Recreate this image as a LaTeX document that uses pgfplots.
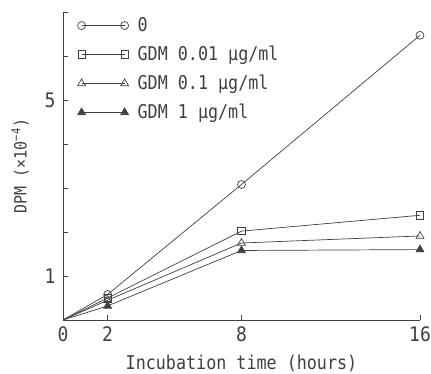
\documentclass[border=0pt]{standalone}
\usepackage{pgfplots}
\pgfplotsset{compat=1.18}
\usepackage{fontspec}
\setmainfont[FakeStretch=0.88]{DejaVu Sans Mono}
\newfontfamily\tickfont[FakeStretch=0.9]{DejaVu Sans Mono}
\definecolor{ink}{gray}{0.25}
\begin{document}
\begin{tikzpicture}
\begin{axis}[
  scale only axis, width=357pt, height=308pt,
  xmin=0, xmax=16, ymin=0, ymax=7,
  axis lines*=left,
  axis line style={ink, line width=0.7pt},
  xtick={0,2,8,16}, xticklabels={0,2,8,16},
  ytick={0,1,2,3,4,5,6,7}, yticklabels={,1,,,,5,,},
  tick align=inside, major tick length=5pt,
  tick style={ink, line width=0.7pt},
  /pgf/number format/assume math mode=true,
  ticklabel style={font=\tickfont\fontsize{20}{22}\selectfont, text=ink},
  xticklabel style={yshift=-3pt},
  yticklabel style={xshift=-4pt},
  xlabel={Incubation time (hours)},
  ylabel={DPM (×10\textsuperscript{−4})},
  every axis x label/.style={at={(axis description cs:0.5,-0.142)}, anchor=center,
    font=\fontsize{19}{22}\selectfont, text=ink},
  every axis y label/.style={at={(axis description cs:-0.12,0.5)}, anchor=center, rotate=90,
    font=\fontsize{17}{20}\selectfont, text=ink},
  every axis plot/.append style={ink, line width=0.7pt},
  mark indices={2,3,4},
  legend cell align=left,
  legend style={draw=none, fill=none, at={(axis description cs:0.032,0.995)}, anchor=north west,
    font=\fontsize{19}{22}\selectfont, text=ink, row sep=9pt,
    nodes={inner sep=2pt},
    /tikz/every odd column/.append style={column sep=7pt}},
  legend image code/.code={\draw[#1, mark indices={1,2}] plot coordinates {(0pt,0pt) (43pt,0pt)};},
]
\addplot[mark=o, mark size=4pt, mark options={fill=white, solid}] coordinates {(0,0) (2,0.58) (8,3.08) (16,6.47)};
\addlegendentry{0}
\addplot[mark=square, mark size=3.7pt, mark options={fill=white, solid}] coordinates {(0,0) (2,0.5) (8,2.02) (16,2.38)};
\addlegendentry{GDM 0.01 µg/ml}
\addplot[mark=triangle, mark size=4.5pt, mark options={fill=white, solid}] coordinates {(0,0) (2,0.45) (8,1.75) (16,1.91)};
\addlegendentry{GDM 0.1 µg/ml}
\addplot[mark=triangle*, mark size=4.5pt, mark options={fill=ink, solid}] coordinates {(0,0) (2,0.32) (8,1.58) (16,1.6)};
\addlegendentry{GDM 1 µg/ml}
\end{axis}
\pgfresetboundingbox
\path (-63pt,-54pt) rectangle (368pt,320pt);
\end{tikzpicture}
\end{document}
